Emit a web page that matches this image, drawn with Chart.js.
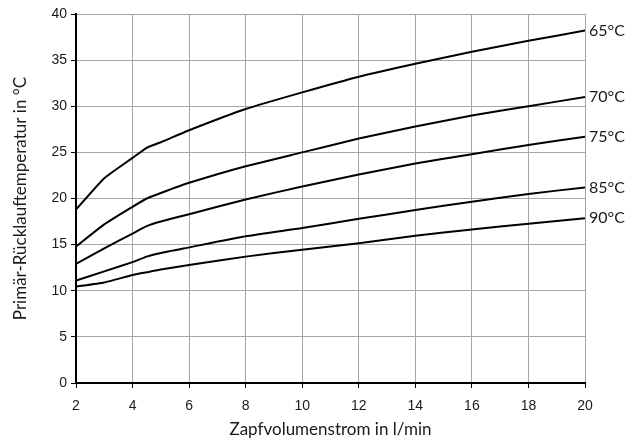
<!DOCTYPE html>
<html><head><meta charset="utf-8">
<script src="https://cdn.jsdelivr.net/npm/chart.js@4/dist/chart.umd.min.js"></script>
<style>html,body{margin:0;padding:0;background:#fff}#wrap{width:641px;height:444px}</style>
</head><body><div id="wrap"><canvas id="c" width="641" height="444"></canvas></div>
<script>
const flowRates = [2, 3, 4, 4.5, 5, 6, 8, 10, 12, 14, 16, 18, 20];
const seriesLabels = ['65°C', '70°C', '75°C', '85°C', '90°C'];
const temp65 = [18.8, 22.2, 24.4, 25.5, 26.1, 27.4, 29.7, 31.5, 33.2, 34.6, 35.9, 37.1, 38.2];
const temp70 = [14.8, 17.2, 19.1, 20.0, 20.6, 21.7, 23.5, 25.0, 26.5, 27.8, 29.0, 30.0, 31.0];
const temp75 = [12.9, 14.6, 16.2, 17.0, 17.5, 18.3, 19.9, 21.3, 22.6, 23.8, 24.8, 25.8, 26.7];
const temp85 = [11.1, 12.1, 13.1, 13.7, 14.1, 14.7, 15.9, 16.8, 17.8, 18.75, 19.65, 20.5, 21.2];
const temp90 = [10.45, 10.9, 11.7, 12.0, 12.3, 12.8, 13.7, 14.45, 15.15, 15.95, 16.65, 17.25, 17.85];
const xTicks = [2, 4, 6, 8, 10, 12, 14, 16, 18, 20];
const yTicks = [0, 5, 10, 15, 20, 25, 30, 35, 40];

const allSeries = [temp65, temp70, temp75, temp85, temp90];
const datasets = allSeries.map((arr, i) => ({
  label: seriesLabels[i],
  data: flowRates.map((x, j) => ({x: x, y: arr[j]})),
  borderColor: '#000',
  borderWidth: 2,
  pointRadius: 0,
  tension: 0.15,
  fill: false
}));

const endLabels = {
  id: 'endLabels',
  afterDatasetsDraw(chart) {
    const ctx = chart.ctx;
    ctx.save();
    ctx.font = '16px Lato';
    ctx.fillStyle = '#1a1a1a';
    ctx.textBaseline = 'middle';
    ctx.textAlign = 'left';
    chart.data.datasets.forEach((ds, i) => {
      const meta = chart.getDatasetMeta(i);
      const last = meta.data[meta.data.length - 1];
      ctx.fillText(ds.label, last.x + 4, last.y);
    });
    ctx.restore();
  }
};

new Chart(document.getElementById('c'), {
  type: 'line',
  data: { datasets },
  plugins: [endLabels],
  options: {
    responsive: false,
    animation: false,
    layout: { padding: { left: 0, right: 56, top: 14, bottom: 0 } },
    plugins: { legend: { display: false }, tooltip: { enabled: false } },
    scales: {
      x: {
        type: 'linear', min: 2, max: 20,
        afterBuildTicks: s => { s.ticks = xTicks.map(v => ({value: v})); },
        afterFit: s => { s.height = 61; },
        grid: { color: '#a6a6a6', lineWidth: 1, tickLength: 5, tickColor: '#000' },
        border: { color: '#000', width: 2 },
        ticks: { color: '#1a1a1a', font: { family: 'Liberation Sans', size: 14 }, padding: 10, maxRotation: 0 },
        title: { display: true, text: 'Zapfvolumenstrom in l/min', color: '#1a1a1a', font: { family: 'Lato', size: 17 }, padding: { top: 0, bottom: 4 } }
      },
      y: {
        type: 'linear', min: 0, max: 40,
        afterBuildTicks: s => { s.ticks = yTicks.map(v => ({value: v})); },
        afterFit: s => { s.width = 76; },
        grid: { color: '#a6a6a6', lineWidth: 1, tickLength: 5, tickColor: '#000' },
        border: { color: '#000', width: 2 },
        ticks: { color: '#1a1a1a', font: { family: 'Liberation Sans', size: 14 }, padding: 4 },
        title: { display: true, text: 'Primär-Rücklauftemperatur in °C', color: '#1a1a1a', font: { family: 'Lato', size: 17 }, padding: { top: 10, bottom: 0 } }
      }
    }
  }
});
</script></body></html>
